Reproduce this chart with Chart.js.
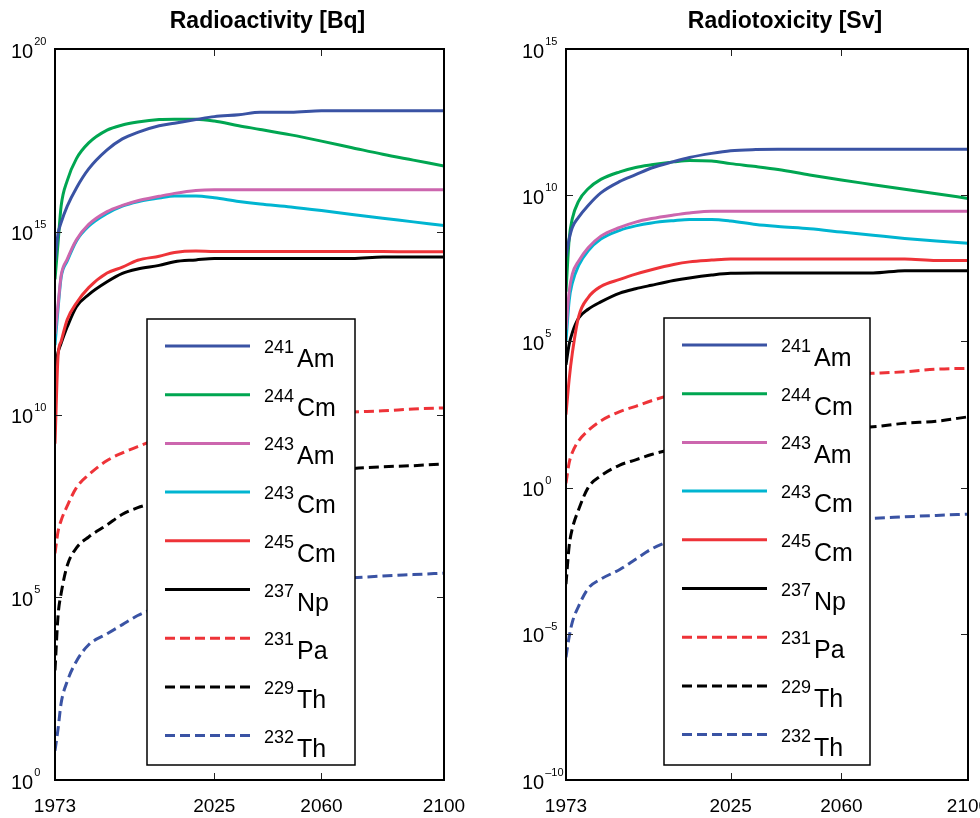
<!DOCTYPE html>
<html>
<head>
<meta charset="utf-8">
<title>Radioactivity and radiotoxicity</title>
<script src="https://cdn.jsdelivr.net/npm/chart.js@4.4.1/dist/chart.umd.min.js"></script>
<style>
  html, body { margin: 0; padding: 0; background: #fff; }
  #wrap { position: relative; width: 980px; height: 818px; }
  canvas { position: absolute; top: 0; }
  #activity-chart { left: 0; }
  #toxicity-chart { left: 490px; }
</style>
</head>
<body>
<div id="wrap">
  <canvas id="activity-chart" width="490" height="818"></canvas>
  <canvas id="toxicity-chart" width="490" height="818"></canvas>
</div>
<script>
const FONT = '"Liberation Sans", Arial, sans-serif';

// Time axis shared by every series
const years = [1973, 1974, 1975, 1977, 1980, 1984, 1990, 1995, 2000, 2007, 2012,
               2019, 2025, 2033, 2040, 2050, 2060, 2070, 2080, 2090, 2100];
const xTickYears = [1973, 2025, 2060, 2100];

// Nuclides, in legend order
const nuclideMass = ['241', '244', '243', '243', '245', '237', '231', '229', '232'];
const nuclideSymbol = ['Am', 'Cm', 'Am', 'Cm', 'Cm', 'Np', 'Pa', 'Th', 'Th'];

// log10 of activity [Bq]
const actAm241 = [14.2, 14.95, 15.25, 15.7, 16.2, 16.72, 17.24, 17.54, 17.72, 17.9, 17.97, 18.07, 18.15, 18.2, 18.27, 18.27, 18.31, 18.31, 18.31, 18.31, 18.31];
const actCm244 = [13.7, 14.7, 15.7, 16.4, 17.0, 17.43, 17.78, 17.92, 18.0, 18.07, 18.08, 18.08, 18.03, 17.9, 17.8, 17.65, 17.48, 17.3, 17.12, 16.96, 16.8];
const actAm243 = [12.2, 13.0, 13.8, 14.25, 14.78, 15.2, 15.55, 15.72, 15.85, 15.97, 16.05, 16.13, 16.15, 16.15, 16.15, 16.15, 16.15, 16.15, 16.15, 16.15, 16.15];
const actCm243 = [11.9, 12.9, 13.75, 14.2, 14.75, 15.15, 15.5, 15.7, 15.82, 15.92, 15.98, 15.98, 15.93, 15.83, 15.76, 15.68, 15.58, 15.47, 15.37, 15.27, 15.17];
const actCm245 = [9.2, 11.6, 12.0, 12.6, 13.05, 13.47, 13.87, 14.03, 14.22, 14.33, 14.43, 14.47, 14.46, 14.46, 14.46, 14.46, 14.46, 14.46, 14.46, 14.45, 14.45];
const actNp237 = [11.2, 11.7, 11.95, 12.4, 12.95, 13.28, 13.63, 13.86, 13.98, 14.08, 14.18, 14.23, 14.27, 14.27, 14.27, 14.27, 14.27, 14.27, 14.31, 14.31, 14.31];
const actPa231 = [6.2, 6.8, 7.1, 7.5, 8.0, 8.35, 8.74, 8.95, 9.12, 9.35, 9.5, 9.65, 9.75, 9.85, 9.9, 9.97, 10.02, 10.07, 10.1, 10.15, 10.18];
const actTh229 = [3.0, 4.5, 5.1, 5.87, 6.35, 6.65, 6.98, 7.27, 7.45, 7.62, 7.77, 7.92, 8.03, 8.15, 8.24, 8.34, 8.43, 8.52, 8.57, 8.6, 8.65];
const actTh232 = [0.8, 1.4, 2.1, 2.7, 3.25, 3.7, 4.0, 4.25, 4.5, 4.75, 4.9, 5.05, 5.15, 5.25, 5.32, 5.4, 5.47, 5.53, 5.58, 5.62, 5.66];

// log10 of radiotoxicity [Sv]
const toxAm241 = [7.9, 8.5, 8.9, 9.25, 9.65, 10.08, 10.47, 10.7, 10.93, 11.15, 11.29, 11.43, 11.52, 11.56, 11.57, 11.57, 11.57, 11.57, 11.57, 11.57, 11.57];
const toxCm244 = [6.7, 8.5, 9.2, 9.8, 10.22, 10.54, 10.8, 10.95, 11.04, 11.14, 11.19, 11.17, 11.08, 10.98, 10.88, 10.69, 10.52, 10.36, 10.2, 10.05, 9.89];
const toxAm243 = [5.4, 6.7, 7.3, 7.75, 8.2, 8.6, 8.9, 9.08, 9.2, 9.32, 9.39, 9.45, 9.45, 9.45, 9.45, 9.45, 9.45, 9.45, 9.45, 9.45, 9.45];
const toxCm243 = [5.0, 6.4, 7.0, 7.6, 8.1, 8.5, 8.8, 8.95, 9.05, 9.13, 9.17, 9.17, 9.12, 9.0, 8.93, 8.85, 8.74, 8.63, 8.52, 8.43, 8.36];
const toxCm245 = [2.5, 3.7, 4.6, 5.85, 6.5, 6.88, 7.12, 7.3, 7.45, 7.63, 7.72, 7.78, 7.82, 7.82, 7.82, 7.82, 7.82, 7.82, 7.82, 7.77, 7.77];
const toxNp237 = [4.2, 4.9, 5.3, 5.8, 6.1, 6.35, 6.65, 6.8, 6.92, 7.08, 7.17, 7.27, 7.33, 7.34, 7.34, 7.34, 7.34, 7.34, 7.42, 7.42, 7.42];
const toxPa231 = [0.15, 0.85, 1.2, 1.6, 1.95, 2.28, 2.6, 2.78, 2.97, 3.2, 3.35, 3.5, 3.6, 3.7, 3.75, 3.82, 3.87, 3.91, 3.96, 4.05, 4.08];
const toxTh229 = [-3.3, -2.0, -1.4, -0.75, 0.0, 0.4, 0.77, 0.95, 1.13, 1.33, 1.47, 1.6, 1.7, 1.8, 1.87, 1.95, 2.02, 2.08, 2.2, 2.27, 2.42];
const toxTh232 = [-5.8, -5.1, -4.6, -4.05, -3.45, -3.13, -2.8, -2.45, -2.1, -1.78, -1.6, -1.45, -1.35, -1.26, -1.2, -1.13, -1.09, -1.05, -1.0, -0.95, -0.91];

// y-axis decades (exponents) that get a tick and label
const actTickExps = [0, 5, 10, 15, 20];
const toxTickExps = [-10, -5, 0, 5, 10, 15];

const lineColors = ['#3a53a4', '#00a651', '#cc66ae', '#00b5d1', '#ee3338', '#000000', '#ee3338', '#000000', '#3a53a4'];
const lineDashes = [[], [], [], [], [], [], [10, 5], [10, 5], [10, 5]];

// Frame, inward ticks, power-of-ten labels, title and the nuclide legend
const frameAndLegend = {
    id: 'frameAndLegend',
    afterDatasetsDraw(chart, args, opts) {
        const { ctx, chartArea: a, scales: { x, y } } = chart;
        const seg = (x1, y1, x2, y2) => {
            ctx.beginPath(); ctx.moveTo(x1, y1); ctx.lineTo(x2, y2); ctx.stroke();
        };
        ctx.save();

        ctx.strokeStyle = '#222';
        ctx.lineWidth = 1;
        xTickYears.forEach(v => {
            const px = Math.round(x.getPixelForValue(v)) + 0.5;
            seg(px, a.bottom, px, a.bottom - 7);
            seg(px, a.top, px, a.top + 7);
        });
        opts.yTicks.forEach(e => {
            const py = Math.round(y.getPixelForValue(Math.pow(10, e))) + 0.5;
            seg(a.left, py, a.left + 7, py);
            seg(a.right, py, a.right - 7, py);
        });

        ctx.strokeStyle = '#000';
        ctx.lineWidth = 2;
        ctx.strokeRect(a.left, a.top, a.right - a.left, a.bottom - a.top);

        // 10^n labels
        ctx.fillStyle = '#000';
        ctx.textAlign = 'left';
        opts.yTicks.forEach(e => {
            const py = y.getPixelForValue(Math.pow(10, e)) + 3;
            const lx = a.left - 44;
            ctx.font = '20px ' + FONT;
            ctx.textBaseline = 'middle';
            ctx.fillText('10', lx, py);
            const w = ctx.measureText('10').width;
            ctx.font = '11px ' + FONT;
            ctx.textBaseline = 'alphabetic';
            ctx.fillText(e < 0 ? '\u2013' + (-e) : String(e), lx + w + 1, py - 7);
        });

        // title
        ctx.font = 'bold 23px ' + FONT;
        ctx.textAlign = 'center';
        ctx.textBaseline = 'middle';
        ctx.fillText(opts.title, (a.left + a.right) / 2 + 18, 22);

        // legend box
        const L = opts.legend;
        const bx = a.left + L.dx, by = a.top + L.dy;
        ctx.fillStyle = '#fff';
        ctx.fillRect(bx, by, L.w, L.h);
        ctx.strokeStyle = '#000';
        ctx.lineWidth = 1.5;
        ctx.strokeRect(bx, by, L.w, L.h);
        ctx.textAlign = 'left';
        ctx.textBaseline = 'alphabetic';
        chart.data.datasets.forEach((ds, i) => {
            const ry = by + 27 + i * 48.7;
            ctx.strokeStyle = ds.borderColor;
            ctx.lineWidth = 3;
            ctx.setLineDash(ds.borderDash);
            seg(bx + 18, ry, bx + 103, ry);
            ctx.setLineDash([]);
            ctx.fillStyle = '#000';
            ctx.font = '18px ' + FONT;
            ctx.fillText(nuclideMass[i], bx + 117, ry + 7);
            ctx.font = '25px ' + FONT;
            ctx.fillText(nuclideSymbol[i], bx + 150, ry + 21);
        });
        ctx.restore();
    }
};

function renderNuclideChart(canvasId, title, series, yTickExps, padding, legendBox) {
    const ctx = document.getElementById(canvasId).getContext('2d');
    return new Chart(ctx, {
        type: 'line',
        data: {
            datasets: series.map((logs, i) => ({
                label: nuclideMass[i] + nuclideSymbol[i],
                data: years.map((yr, k) => ({ x: yr, y: Math.pow(10, logs[k]) })),
                borderColor: lineColors[i],
                borderDash: lineDashes[i],
                borderWidth: 3,
                pointRadius: 0,
                cubicInterpolationMode: 'monotone',
                fill: false,
            })),
        },
        options: {
            responsive: false,
            animation: false,
            devicePixelRatio: 1,
            layout: { padding: padding },
            plugins: {
                legend: { display: false },
                tooltip: { enabled: false },
                frameAndLegend: { title: title, yTicks: yTickExps, legend: legendBox },
            },
            scales: {
                x: {
                    type: 'linear',
                    min: 1973,
                    max: 2100,
                    afterBuildTicks: s => { s.ticks = xTickYears.map(v => ({ value: v })); },
                    afterFit: s => { s.height = 38; s.paddingLeft = 0; s.paddingRight = 0; },
                    grid: { display: false, drawTicks: false },
                    border: { display: false },
                    ticks: {
                        color: '#000',
                        font: { family: FONT, size: 19 },
                        padding: 15,
                        maxRotation: 0,
                        autoSkip: false,
                        callback: v => String(v),
                    },
                },
                y: {
                    type: 'logarithmic',
                    display: false,
                    min: Math.pow(10, yTickExps[0]),
                    max: Math.pow(10, yTickExps[yTickExps.length - 1]),
                },
            },
        },
        plugins: [frameAndLegend],
    });
}

renderNuclideChart('activity-chart', 'Radioactivity [Bq]',
    [actAm241, actCm244, actAm243, actCm243, actCm245, actNp237, actPa231, actTh229, actTh232],
    actTickExps,
    { left: 55, right: 46, top: 49, bottom: 0 },
    { dx: 92, dy: 270, w: 208, h: 446 });

renderNuclideChart('toxicity-chart', 'Radiotoxicity [Sv]',
    [toxAm241, toxCm244, toxAm243, toxCm243, toxCm245, toxNp237, toxPa231, toxTh229, toxTh232],
    toxTickExps,
    { left: 76, right: 12, top: 49, bottom: 0 },
    { dx: 98, dy: 269, w: 206, h: 447 });
</script>
</body>
</html>
